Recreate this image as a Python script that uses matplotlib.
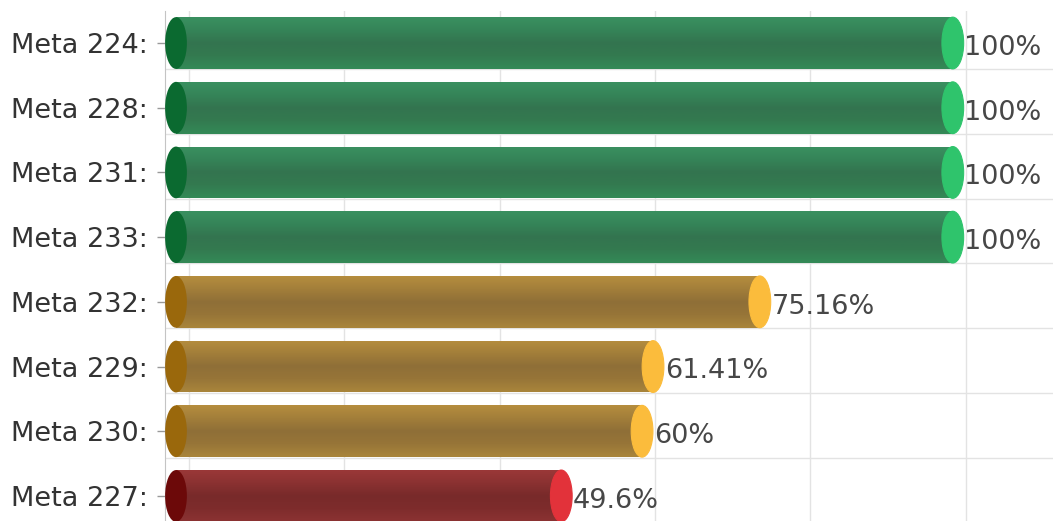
import numpy as np
import matplotlib
matplotlib.use("Agg")
import matplotlib.pyplot as plt
from matplotlib.patches import Ellipse
from matplotlib.colors import LinearSegmentedColormap

# Datos del gráfico
metas = ["Meta 224:", "Meta 228:", "Meta 231:", "Meta 233:",
         "Meta 232:", "Meta 229:", "Meta 230:", "Meta 227:"]
valores = [100, 100, 100, 100, 75.16, 61.41, 60, 49.6]
etiquetas = ["100%", "100%", "100%", "100%", "75.16%", "61.41%", "60%", "49.6%"]

# Paletas: (degradado del cuerpo, tapa izquierda, tapa derecha)
PALETAS = {
    "verde": (["#3a9060", "#358458", "#33744f", "#337a50", "#348a57"], "#0b6a30", "#2fc46c"),
    "ambar": (["#b58d3e", "#a27e3a", "#8f6f37", "#977538", "#a9853b"], "#9a680c", "#fbbc3c"),
    "rojo": (["#9a3838", "#8a3131", "#782a2a", "#7e2c2c", "#8c3333"], "#6c0909", "#e2323a"),
}

ALTO = 0.8
ANCHO_TAPA = 2.8
DESFASE_X = 1.67   # corrimiento de la grilla por el efecto 3D
DESFASE_Y = 0.093


def paleta(valor):
    if valor >= 90:
        return PALETAS["verde"]
    if valor >= 50:
        return PALETAS["ambar"]
    return PALETAS["rojo"]


fig = plt.figure(figsize=(10.53, 5.21), dpi=100)
ax = fig.add_axes([165 / 1053, -0.014, 1 - 165 / 1053, 0.9935])

# Grilla desplazada (plano de fondo)
for gx in np.arange(0, 101, 20) + DESFASE_X:
    ax.axvline(gx, color="#e3e3e3", lw=1, zorder=0)
for gy in np.arange(0.5, len(metas), 1) - DESFASE_Y:
    ax.axhline(gy, color="#e3e3e3", lw=1, zorder=0)
ax.axhline(-0.5 - DESFASE_Y + 0.05, color="#e3e3e3", lw=1, zorder=0)

for i, (valor, texto) in enumerate(zip(valores, etiquetas)):
    cuerpo, c_izq, c_der = paleta(valor)
    barra = ax.barh(i, valor, height=ALTO, left=0, color=cuerpo[2], lw=0, zorder=2)[0]
    cmap = LinearSegmentedColormap.from_list("g", cuerpo)
    grad = np.linspace(0, 1, 64).reshape(-1, 1)
    img = ax.imshow(grad, cmap=cmap, aspect="auto", zorder=3,
                    extent=(0, valor, i + ALTO / 2, i - ALTO / 2))
    img.set_clip_path(barra)
    ax.add_patch(Ellipse((0, i), ANCHO_TAPA, ALTO, color=c_izq, lw=0, zorder=4))
    ax.add_patch(Ellipse((valor, i), ANCHO_TAPA, ALTO, facecolor=c_der,
                         edgecolor=c_der, lw=0.8, zorder=4))
    ax.text(valor + ANCHO_TAPA / 2 + 0.1, i + 0.03, texto, fontsize=19.5,
            color="#474747", va="center_baseline", ha="left", zorder=5)

ax.set_xlim(-1.416, 112.9)
ax.set_ylim(len(metas) - 0.5, -0.5)

ax.set_yticks(range(len(metas)))
ax.set_yticklabels(metas, fontsize=19.5, color="#333333")
ax.tick_params(axis="y", length=6, width=1, color="#999999", pad=6.5)
ax.set_xticks([])

for lado in ["top", "right", "bottom"]:
    ax.spines[lado].set_visible(False)
ax.spines["left"].set_color("#c4c4c4")

fig.savefig("out.png", dpi=100)
